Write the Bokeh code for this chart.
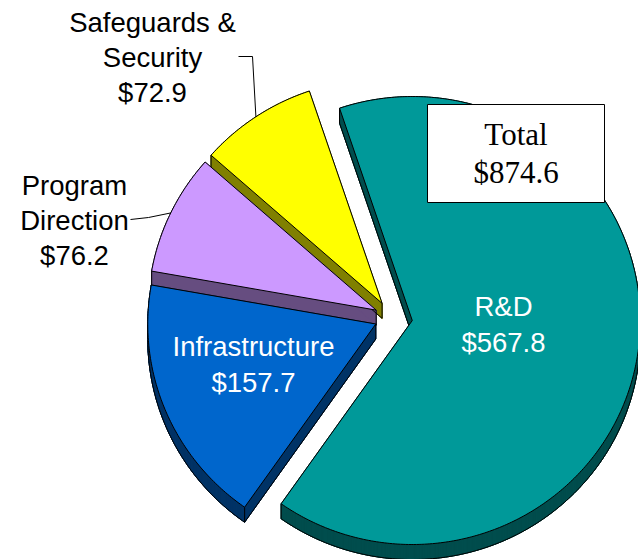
import numpy as np
from bokeh.plotting import figure
from bokeh.models import Range1d, ColumnDataSource
from bokeh.embed import file_html
from bokeh.resources import INLINE
from bokeh.core.properties import value

# ---------------- data ----------------
categories = ["R&D", "Infrastructure", "Program Direction", "Safeguards & Security"]
amounts = [567.8, 157.7, 76.2, 72.9]
name_lines = [["R&D"], ["Infrastructure"], ["Program", "Direction"], ["Safeguards &", "Security"]]
total_title = "Total"
total_amount = 874.6

# ---------------- style / layout ----------------
top_colors = ["#009999", "#0066CC", "#CC99FF", "#FFFF00"]
side_colors = ["#004D4D", "#003366", "#664D80", "#808000"]
label_colors = ["white", "white", "black", "black"]
# (center x, first line y, line spacing) in page pixels
label_layout = [(503, 306, 36), (253, 346, 36), (74, 185, 35), (152, 22, 35)]

CX, CY = 391.0, 317.0
RX, RY = 228.0, 224.0
DEPTH = 15.0
START = 108.6
explode = [21, 17, 17, 17]

FONT = "Liberation Sans"
SERIF = "Liberation Serif"

W, H = 638, 559
p = figure(width=W, height=H, x_range=Range1d(0, W), y_range=Range1d(H, 0),
           output_backend="svg", toolbar_location=None, min_border=0,
           x_axis_location=None, y_axis_location=None)
p.grid.visible = False
p.outline_line_color = None
p.background_fill_color = "white"
p.border_fill_color = "white"

total = sum(amounts)
slices = []
a0 = START
for v in amounts:
    span = v / total * 360.0
    slices.append((a0, a0 - span))
    a0 -= span


def geom(i):
    a_s, a_e = slices[i]
    mid = np.radians((a_s + a_e) / 2)
    ox = CX + explode[i] * np.cos(mid)
    oy = CY - explode[i] * np.sin(mid)
    n = max(6, int(abs(a_s - a_e) * 1.5))
    th = np.radians(np.linspace(a_s, a_e, n))
    ax = ox + RX * np.cos(th)
    ay = oy - RY * np.sin(th)
    return ox, oy, th, ax, ay


draw_order = [3, 2, 0, 1]

# side fills
for i in draw_order:
    ox, oy, th, ax, ay = geom(i)
    px = np.concatenate([[ox], ax])
    py = np.concatenate([[oy], ay])
    xs = [list(px)]
    ys = [list(py + DEPTH)]
    m = len(px)
    for k in range(m):
        j = (k + 1) % m
        xs.append([px[k], px[j], px[j], px[k]])
        ys.append([py[k], py[j], py[j] + DEPTH, py[k] + DEPTH])
    p.patches(xs, ys, fill_color=side_colors[i], line_color=side_colors[i], line_width=1)

# side outlines
for i in draw_order:
    a_s, a_e = slices[i]
    ox, oy, th, ax, ay = geom(i)
    lx, ly = [], []
    front = np.sin(th) < 0
    if front.any():
        idx = np.where(front)[0]
        runs = np.split(idx, np.where(np.diff(idx) != 1)[0] + 1)
        for r in runs:
            lx.append(list(ax[r]))
            ly.append(list(ay[r] + DEPTH))
    if np.cos(np.radians(a_s)) < 0:
        lx.append([ox, ax[0]])
        ly.append([oy + DEPTH, ay[0] + DEPTH])
    if np.cos(np.radians(a_e)) > 0:
        lx.append([ox, ax[-1]])
        ly.append([oy + DEPTH, ay[-1] + DEPTH])
    for (x0, y0) in [(ox, oy), (ax[0], ay[0]), (ax[-1], ay[-1])]:
        lx.append([x0, x0])
        ly.append([y0, y0 + DEPTH])
    for deg in (180.0, -180.0, 0.0, 360.0):
        if min(a_s, a_e) < deg < max(a_s, a_e):
            t = np.radians(deg)
            x0 = ox + RX * np.cos(t)
            y0 = oy - RY * np.sin(t)
            lx.append([x0, x0])
            ly.append([y0, y0 + DEPTH])
    p.multi_line(lx, ly, line_color="black", line_width=1)

# top faces
for i in draw_order:
    ox, oy, th, ax, ay = geom(i)
    px = np.concatenate([[ox], ax])
    py = np.concatenate([[oy], ay])
    p.patch(list(px), list(py), fill_color=top_colors[i], line_color="black", line_width=1)

# leader lines for outside labels
ox, oy, th, ax, ay = geom(3)
mid = np.radians(sum(slices[3]) / 2)
ex_, ey_ = ox + RX * np.cos(mid), oy - RY * np.sin(mid)
p.line([238, 252, ex_], [56, 56, ey_], line_color="black", line_width=1)
ox, oy, th, ax, ay = geom(2)
mid = np.radians(sum(slices[2]) / 2)
ex_, ey_ = ox + RX * np.cos(mid), oy - RY * np.sin(mid)
p.line([130, 148, ex_], [219, 217, ey_], line_color="black", line_width=1)

# labels
for i in range(len(categories)):
    lines = name_lines[i] + ["$%.1f" % amounts[i]]
    cx, y0, dy = label_layout[i]
    src = ColumnDataSource(dict(x=[cx] * len(lines), y=[y0 + k * dy for k in range(len(lines))], t=lines))
    p.text(x="x", y="y", text="t", source=src, text_align="center", text_baseline="alphabetic",
           text_font=value(FONT), text_font_size="27.5px", text_color=label_colors[i])

# total box
p.quad(left=[427], right=[604], top=[104], bottom=[202], fill_color="white", line_color="black", line_width=1)
p.text(x=[515.5, 515.5], y=[134, 172], text=[total_title, "$%.1f" % total_amount],
       text_align="center", text_baseline="alphabetic",
       text_font=value(SERIF), text_font_size="31px", text_color="black")

open("out.html", "w").write(file_html(p, INLINE))
